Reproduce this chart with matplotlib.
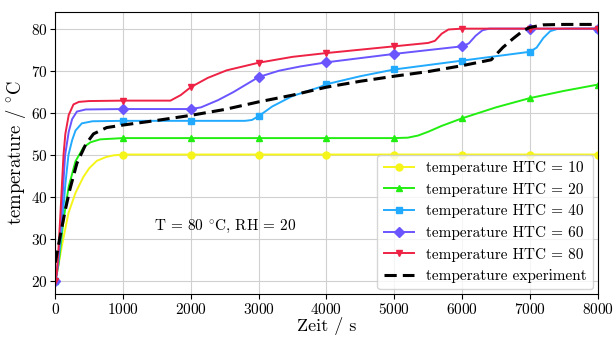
import numpy as np
import matplotlib
matplotlib.use("Agg")
import matplotlib.pyplot as plt

plt.rcParams['font.family'] = 'serif'
plt.rcParams['font.serif'] = ['cmr10']
plt.rcParams['mathtext.fontset'] = 'cm'
plt.rcParams['axes.formatter.use_mathtext'] = True

# values (time in s, temperature in degC)
t_htc10 = [0, 50, 100, 196, 300, 417, 500, 614, 750, 860, 1000, 2000, 3000, 4000, 5000, 6000, 7000, 8000]
T_htc10 = [20, 24, 28.5, 36.2, 41, 44.8, 46.8, 48.6, 49.5, 49.9, 50.1, 50.1, 50.1, 50.1, 50.1, 50.1, 50.1, 50.1]

t_htc20 = [0, 50, 123, 200, 300, 417, 520, 663, 1000, 2000, 3000, 4000, 5000, 5200, 5350, 5500, 5700,
           6000, 6500, 7000, 7500, 8000]
T_htc20 = [20, 24, 34.6, 42.5, 48.5, 51.8, 53, 53.7, 54, 54, 54, 54, 54, 54.1, 54.6, 55.5, 56.9,
           58.7, 61.3, 63.5, 65.2, 66.7]

t_htc40 = [0, 50, 100, 150, 196, 250, 300, 393, 550, 1000, 2000, 2800, 2900, 3000, 3200, 3500, 3900, 4000,
           4500, 5000, 6000, 7000, 7100, 7200, 7300, 7400, 7600, 8000]
T_htc40 = [20, 25, 33, 43, 50, 53.5, 55.8, 57.5, 58, 58.1, 58.1, 58.1, 58.3, 59.2, 61.5, 64, 66.1, 66.8,
           68.7, 70.3, 72.4, 74.5, 75.5, 77.8, 79.4, 79.9, 80, 80]

t_htc60 = [0, 25, 50, 100, 147, 200, 250, 320, 450, 1000, 2000, 2150, 2400, 2625, 3000, 3300, 3610, 4000,
           5000, 6000, 6100, 6200, 6300, 6400, 6600, 7000, 8000]
T_htc60 = [20, 21.5, 26, 38, 50, 55.5, 58.5, 60.3, 60.8, 60.9, 60.9, 61.3, 63, 64.9, 68.5, 70, 71, 72,
           74, 75.8, 76.5, 78.3, 79.6, 80, 80, 80, 80]

t_htc80 = [0, 25, 50, 74, 100, 123, 150, 200, 270, 350, 500, 1000, 1700, 1850, 2000, 2250, 2530, 3000,
           3500, 4000, 5000, 5500, 5600, 5700, 5800, 6000, 7000, 8000]
T_htc80 = [20, 22, 28, 35, 43, 50, 55, 59.5, 62, 62.6, 62.8, 62.9, 62.9, 64.2, 66.1, 68.3, 70.1, 71.9,
           73.3, 74.2, 75.8, 76.6, 77.1, 78.8, 79.8, 80, 80, 80]

t_exp = [0, 74, 150, 220, 320, 450, 565, 760, 1000, 1500, 2000, 2500, 3000, 3500, 4000, 4500, 5000, 5500,
         6000, 6430, 6600, 6750, 6900, 7000, 7200, 7500, 8000]
T_exp = [24.4, 30.7, 37, 42, 48, 52.5, 55, 56.5, 57.1, 58.2, 59.4, 60.8, 62.6, 64.2, 66.1, 67.5, 68.7, 69.8,
         71.2, 72.6, 75.5, 77.6, 79.5, 80.3, 80.9, 81, 81]

series = [
    (t_htc10, T_htc10, '#f5f51a', 'o', 'temperature HTC = 10'),
    (t_htc20, T_htc20, '#22ee11', '^', 'temperature HTC = 20'),
    (t_htc40, T_htc40, '#22aaff', 's', 'temperature HTC = 40'),
    (t_htc60, T_htc60, '#6a55ff', 'D', 'temperature HTC = 60'),
    (t_htc80, T_htc80, '#ee2244', 'v', 'temperature HTC = 80'),
]

fig, ax = plt.subplots(figsize=(6.13, 3.37), dpi=100)

for t, T, col, mk, lab in series:
    marks = [i for i, v in enumerate(t) if v % 1000 == 0]
    ax.plot(t, T, color=col, lw=1.4, marker=mk, markersize=5, markevery=marks, label=lab)
ax.plot(t_exp, T_exp, color='black', lw=2.2, ls=(0, (4, 2)), label='temperature experiment')

ax.text(2500, 33, r'T = 80 $^{\circ}$C, RH = 20', ha='center', va='center', fontsize=11)

ax.set_xlim(0, 8000)
ax.set_ylim(17, 84)
ax.set_xticks(np.arange(0, 8001, 1000))
ax.set_yticks(np.arange(20, 81, 10))
ax.grid(True, color='#d0d0d0', lw=0.8)
ax.tick_params(labelsize=11, pad=2)
ax.set_xlabel('Zeit / s', fontsize=13, labelpad=0)
ax.set_ylabel(r'temperature / $^{\circ}$C', fontsize=13.5, labelpad=2)
ax.legend(loc='lower right', fontsize=11, framealpha=0.8, handlelength=2.0,
          borderaxespad=0.3, labelspacing=0.5)

fig.subplots_adjust(left=0.09, right=0.975, top=0.965, bottom=0.128)
fig.savefig('out.png', dpi=100)
